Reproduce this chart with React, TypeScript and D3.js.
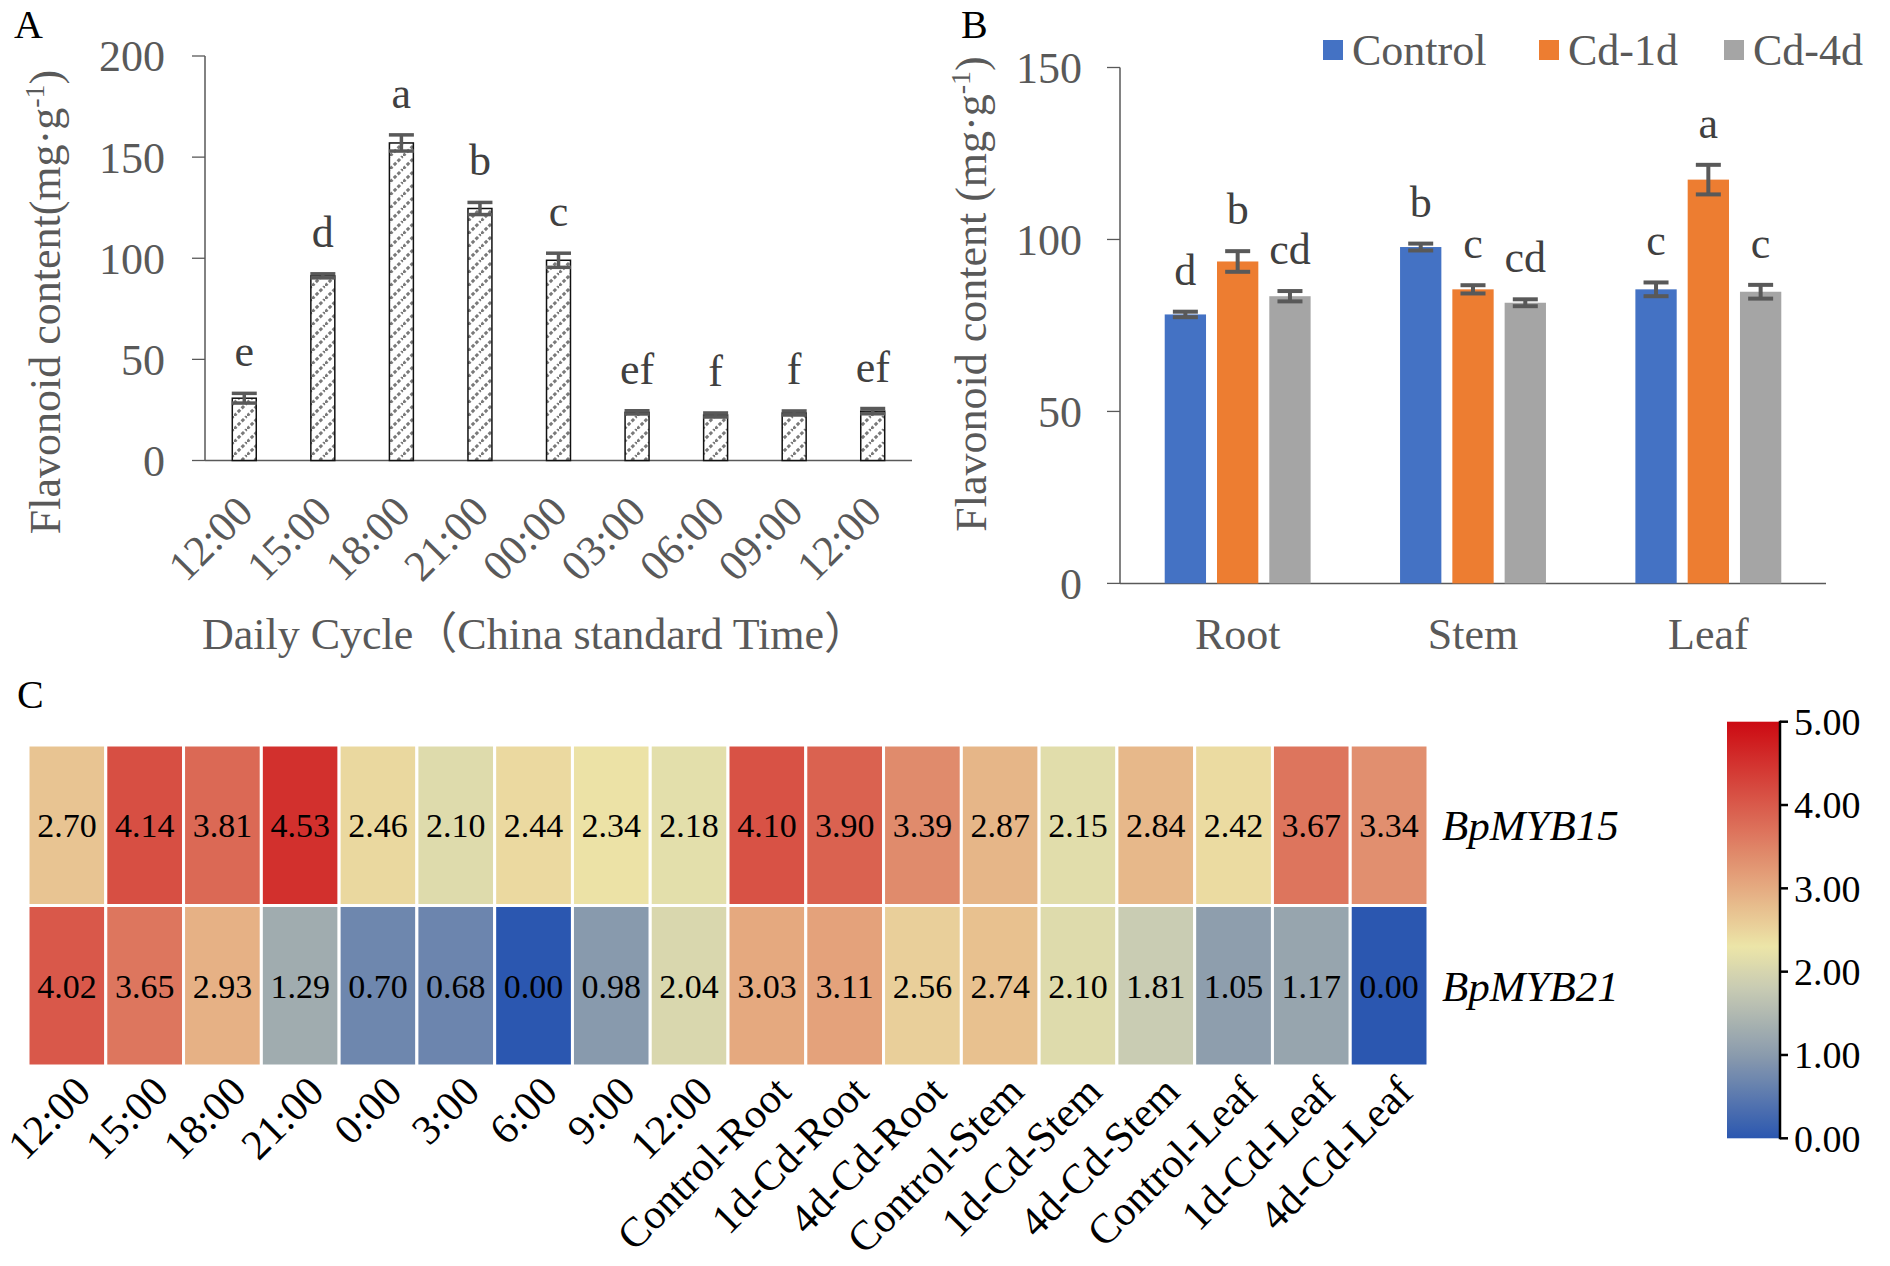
import * as d3 from "d3";

// ---- panel A: daily cycle flavonoid content ----
const timesA = ["12:00", "15:00", "18:00", "21:00", "00:00", "03:00", "06:00", "09:00", "12:00"];
const flavA = [30.8, 91.3, 157.0, 124.6, 99.0, 23.8, 22.5, 23.5, 24.4];
const errA = [2.4, 1.0, 4.0, 3.0, 3.5, 0.8, 1.0, 1.0, 1.3];
const letA = ["e", "d", "a", "b", "c", "ef", "f", "f", "ef"];
const ticksA = [0, 50, 100, 150, 200];

// ---- panel B: tissues under Cd ----
const tissues = ["Root", "Stem", "Leaf"];
const seriesB = ["Control", "Cd-1d", "Cd-4d"];
const colorsB = ["#4472c4", "#ed7d31", "#a5a5a5"];
const controlB = [78.2, 97.8, 85.5];
const cd1B = [93.6, 85.5, 117.4];
const cd4B = [83.5, 81.6, 84.8];
const errControlB = [0.8, 1.0, 2.0];
const errCd1B = [3.0, 1.2, 4.3];
const errCd4B = [1.5, 1.0, 2.0];
const letControlB = ["d", "b", "c"];
const letCd1B = ["b", "c", "a"];
const letCd4B = ["cd", "cd", "c"];
const ticksB = [0, 50, 100, 150];

// ---- panel C: heatmap ----
const colsC = [
  "12:00", "15:00", "18:00", "21:00", "0:00", "3:00", "6:00", "9:00", "12:00",
  "Control-Root", "1d-Cd-Root", "4d-Cd-Root", "Control-Stem", "1d-Cd-Stem",
  "4d-Cd-Stem", "Control-Leaf", "1d-Cd-Leaf", "4d-Cd-Leaf",
];
const genes = ["BpMYB15", "BpMYB21"];
const myb15 = [2.70, 4.14, 3.81, 4.53, 2.46, 2.10, 2.44, 2.34, 2.18, 4.10, 3.90, 3.39, 2.87, 2.15, 2.84, 2.42, 3.67, 3.34];
const myb21 = [4.02, 3.65, 2.93, 1.29, 0.70, 0.68, 0.00, 0.98, 2.04, 3.03, 3.11, 2.56, 2.74, 2.10, 1.81, 1.05, 1.17, 0.00];
const colorStops = [0, 1, 1.8, 2.3, 3, 4, 5];
const colorRange = ["#2b57b0", "#8a9bad", "#c8cbb3", "#ece5a8", "#e5ab81", "#d95a4b", "#cc0a12"];
const ticksC = [0, 1, 2, 3, 4, 5];

const FONT = "'Times New Roman', 'Liberation Serif', 'Noto Sans CJK SC', serif";
const GREY = "#595959";

export default function App() {
  // panel A scales
  const xA = d3.scaleBand<number>().domain(d3.range(timesA.length)).range([205, 912]).paddingInner(0.695).paddingOuter(0.3475);
  const yA = d3.scaleLinear().domain([0, 200]).range([460.5, 56]);

  // panel B scales
  const xB = d3.scaleBand<string>().domain(tissues).range([1120, 1826]);
  const xB1 = d3.scaleBand<string>().domain(seriesB).range([0, xB.bandwidth()]).paddingInner(0.21).paddingOuter(0.855);
  const yB = d3.scaleLinear().domain([0, 150]).range([583.4, 67.5]);
  const valsB = [controlB, cd1B, cd4B];
  const errsB = [errControlB, errCd1B, errCd4B];
  const letsB = [letControlB, letCd1B, letCd4B];

  // panel C scales
  const xC = d3.scaleBand<number>().domain(d3.range(colsC.length)).range([28, 1428]);
  const yC = d3.scaleBand<string>().domain(genes).range([745, 1066]);
  const color = d3.scaleLinear<string>().domain(colorStops).range(colorRange).interpolate(d3.interpolateRgb);
  const rows = [myb15, myb21];
  const yBar = d3.scaleLinear().domain([0, 5]).range([1138.3, 721.7]);
  const gradStops = d3.range(0, 5.001, 0.1);

  return (
    <svg width={1890} height={1266} style={{ position: "absolute", left: 0, top: 0, background: "#fff" }} fontFamily={FONT}>
      <defs>
        <pattern id="hatch" width={13} height={13} patternUnits="userSpaceOnUse">
          <rect width={13} height={13} fill="#fff" />
          <path d="M0,13 L13,0 M-3,3 L3,-3 M10,16 L16,10" stroke="#7a7a7a" strokeWidth={3} strokeDasharray="3.4 2" />
        </pattern>
        <linearGradient id="cbar" x1="0" y1="1" x2="0" y2="0">
          {gradStops.map((v) => (
            <stop key={v} offset={v / 5} stopColor={color(v)} />
          ))}
        </linearGradient>
      </defs>

      {/* ===== Panel A ===== */}
      <text x={14} y={38} fontSize={40} fill="#000">A</text>
      <line x1={205} x2={205} y1={yA(200)} y2={yA(0)} stroke={GREY} strokeWidth={1.5} />
      <line x1={205} x2={912} y1={yA(0)} y2={yA(0)} stroke={GREY} strokeWidth={1.5} />
      {ticksA.map((t) => (
        <g key={t}>
          <line x1={192} x2={205} y1={yA(t)} y2={yA(t)} stroke={GREY} strokeWidth={1.3} />
          <text x={165} y={yA(t)} dy="0.35em" textAnchor="end" fontSize={44} fill={GREY}>{t}</text>
        </g>
      ))}
      {flavA.map((v, i) => {
        const x = xA(i)!;
        const w = xA.bandwidth();
        const cx = x + w / 2;
        return (
          <g key={i}>
            <rect x={x} y={yA(v)} width={w} height={yA(0) - yA(v)} fill="url(#hatch)" stroke="#111" strokeWidth={1.5} />
            <line x1={cx} x2={cx} y1={yA(v - errA[i])} y2={yA(v + errA[i])} stroke={GREY} strokeWidth={3.5} />
            <line x1={cx - 12.5} x2={cx + 12.5} y1={yA(v + errA[i])} y2={yA(v + errA[i])} stroke={GREY} strokeWidth={3.5} />
            <line x1={cx - 12.5} x2={cx + 12.5} y1={yA(v - errA[i])} y2={yA(v - errA[i])} stroke={GREY} strokeWidth={3.5} />
            <text x={cx} y={yA(v + errA[i]) - 27} textAnchor="middle" fontSize={44} fill="#404040">{letA[i]}</text>
            <text transform={`translate(${cx + 11},514) rotate(-45)`} textAnchor="end" fontSize={43} fill={GREY}>{timesA[i]}</text>
          </g>
        );
      })}
      <text transform="translate(60,302) rotate(-90)" textAnchor="middle" fontSize={44} fill={GREY}>
        Flavonoid content(mg·g<tspan dy="-16" fontSize={28}>-1</tspan><tspan dy="16">)</tspan>
      </text>
      <text x={535} y={649} textAnchor="middle" fontSize={44} fill={GREY}>Daily Cycle（China standard Time）</text>

      {/* ===== Panel B ===== */}
      <text x={961} y={38} fontSize={40} fill="#000">B</text>
      <line x1={1120} x2={1120} y1={yB(150)} y2={yB(0)} stroke={GREY} strokeWidth={1.5} />
      <line x1={1120} x2={1826} y1={yB(0)} y2={yB(0)} stroke={GREY} strokeWidth={1.5} />
      {ticksB.map((t) => (
        <g key={t}>
          <line x1={1107} x2={1120} y1={yB(t)} y2={yB(t)} stroke={GREY} strokeWidth={1.3} />
          <text x={1082} y={yB(t)} dy="0.35em" textAnchor="end" fontSize={44} fill={GREY}>{t}</text>
        </g>
      ))}
      {tissues.map((tis, gi) => (
        <g key={tis}>
          {seriesB.map((s, si) => {
            const v = valsB[si][gi];
            const e = errsB[si][gi];
            const x = xB(tis)! + xB1(s)!;
            const w = xB1.bandwidth();
            const cx = x + w / 2;
            return (
              <g key={s}>
                <rect x={x} y={yB(v)} width={w} height={yB(0) - yB(v)} fill={colorsB[si]} />
                <line x1={cx} x2={cx} y1={yB(v - e)} y2={yB(v + e)} stroke={GREY} strokeWidth={4} />
                <line x1={cx - 12.5} x2={cx + 12.5} y1={yB(v + e)} y2={yB(v + e)} stroke={GREY} strokeWidth={4} />
                <line x1={cx - 12.5} x2={cx + 12.5} y1={yB(v - e)} y2={yB(v - e)} stroke={GREY} strokeWidth={4} />
                <text x={cx} y={yB(v + e) - 27} textAnchor="middle" fontSize={44} fill="#404040">{letsB[si][gi]}</text>
              </g>
            );
          })}
          <text x={xB(tis)! + xB.bandwidth() / 2} y={649} textAnchor="middle" fontSize={44} fill={GREY}>{tis}</text>
        </g>
      ))}
      <text transform="translate(986,294) rotate(-90)" textAnchor="middle" fontSize={44} fill={GREY}>
        Flavonoid content (mg·g<tspan dy="-16" fontSize={28}>-1</tspan><tspan dy="16">)</tspan>
      </text>
      {seriesB.map((s, i) => {
        const lx = [1323, 1539, 1724][i];
        return (
          <g key={s}>
            <rect x={lx} y={40} width={20} height={20} fill={colorsB[i]} />
            <text x={lx + 29} y={65} fontSize={44} fill={GREY}>{s}</text>
          </g>
        );
      })}

      {/* ===== Panel C ===== */}
      <text x={17} y={708} fontSize={40} fill="#000">C</text>
      {rows.map((row, ri) => (
        <g key={genes[ri]}>
          {row.map((v, ci) => (
            <g key={ci}>
              <rect x={xC(ci)!} y={yC(genes[ri])!} width={xC.bandwidth()} height={yC.bandwidth()} fill={color(v)} stroke="#fff" strokeWidth={3} />
              <text x={xC(ci)! + xC.bandwidth() / 2} y={yC(genes[ri])! + yC.bandwidth() / 2} dy="0.35em" textAnchor="middle" fontSize={34} fill="#000">
                {v.toFixed(2)}
              </text>
            </g>
          ))}
          <text x={1442} y={yC(genes[ri])! + yC.bandwidth() / 2} dy="0.35em" fontSize={43} fontStyle="italic" fill="#000">{genes[ri]}</text>
        </g>
      ))}
      {colsC.map((c, ci) => (
        <text key={ci} transform={`translate(${xC(ci)! + xC.bandwidth() / 2 + 26},1094) rotate(-45)`} textAnchor="end" fontSize={42} fill="#000">
          {c}
        </text>
      ))}
      <rect x={1727} y={yBar(5)} width={53} height={yBar(0) - yBar(5)} fill="url(#cbar)" />
      <line x1={1780} x2={1780} y1={yBar(5) - 1} y2={yBar(0) + 1} stroke="#000" strokeWidth={2.5} />
      {ticksC.map((t) => (
        <g key={t}>
          <line x1={1780} x2={1788} y1={yBar(t)} y2={yBar(t)} stroke="#000" strokeWidth={2.5} />
          <text x={1794} y={yBar(t)} dy="0.35em" fontSize={38} fill="#000">{t.toFixed(2)}</text>
        </g>
      ))}
    </svg>
  );
}
